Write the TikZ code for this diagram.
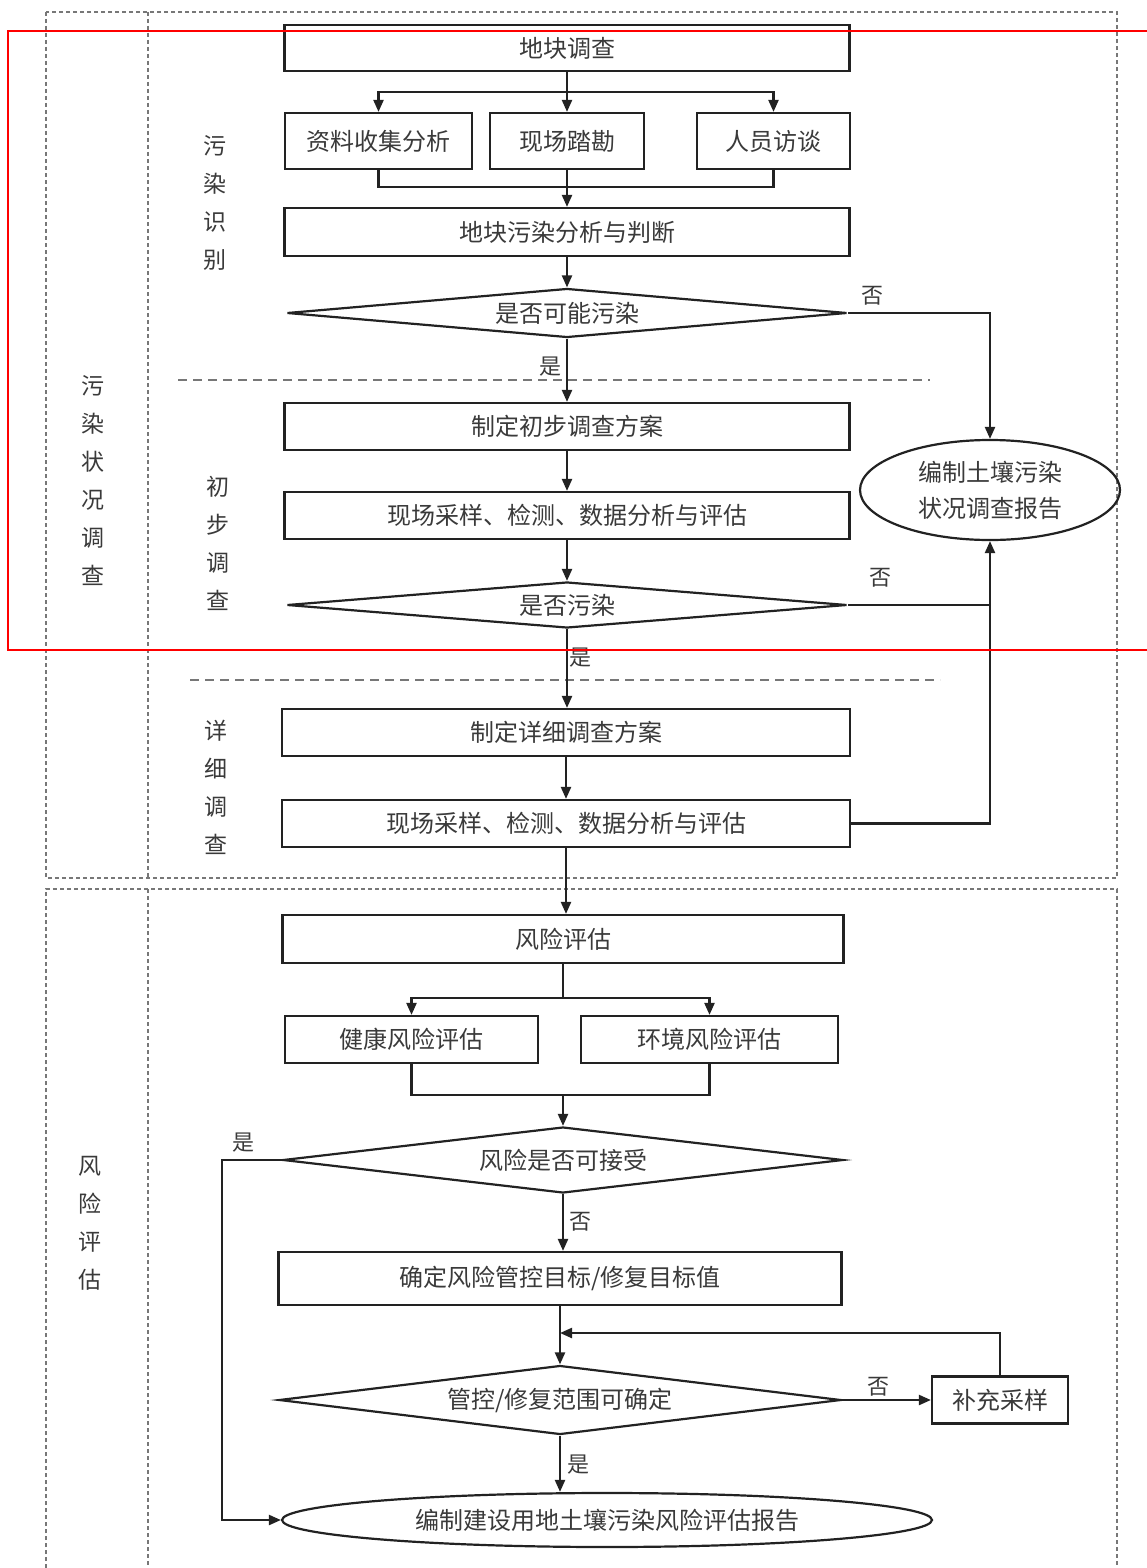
\documentclass[tikz,border=0pt]{standalone}
\usepackage{fontspec}
\setmainfont{Noto Sans CJK SC}
\usetikzlibrary{shapes.geometric,arrows.meta,calc}
\definecolor{linec}{HTML}{222222}
\definecolor{textc}{HTML}{3A3A3A}
\definecolor{framec}{HTML}{777777}
\begin{document}
\begin{tikzpicture}[x=1pt,y=-1pt,
  every node/.style={font=\fontsize{24}{36}\selectfont, text=textc},
  box/.style={draw=linec, line width=2.2pt, inner sep=0pt, rectangle},
  dia/.style={draw=linec, line width=2.2pt, diamond, inner sep=0pt, aspect=10},
  ell/.style={draw=linec, line width=2.2pt, ellipse, inner sep=0pt, align=center},
  arr/.style={draw=linec, line width=2.2pt, -{Triangle[length=12pt,width=10pt]}},
  ln/.style={draw=linec, line width=2.2pt},
  sepline/.style={draw=framec, line width=1.6pt, dash pattern=on 9pt off 6pt},
  frame/.style={draw=framec, line width=1.4pt, dash pattern=on 4pt off 3pt},
  vlab/.style={align=center, font=\fontsize{23}{38}\selectfont},
  lab/.style={font=\fontsize{22}{24}\selectfont},
]
\useasboundingbox[fill=white] (0,0) rectangle (1146,1568);

% frames
\draw[frame] (46,12) rectangle (1117,878);
\draw[frame] (46,1568) -- (46,889) -- (1117,889) -- (1117,1568);
\draw[frame] (148,12) -- (148,878);
\draw[frame] (148,889) -- (148,1568);
\draw[sepline] (178,380) -- (930,380);
\draw[sepline] (190,680) -- (940,680);

% vertical labels
\node[vlab] (v1) at (93,481) {污\\染\\状\\况\\调\\查};
\node[vlab] (v2) at (90,1223) {风\\险\\评\\估};
\node[vlab] (v3) at (215,203) {污\\染\\识\\别};
\node[vlab] (v4) at (218,543) {初\\步\\调\\查};
\node[vlab] (v5) at (216,787) {详\\细\\调\\查};

% nodes
\node[box, minimum width=565pt, minimum height=46pt] (b1) at (567,48) {地块调查};
\node[box, minimum width=187pt, minimum height=56pt] (b2a) at (378.5,141) {资料收集分析};
\node[box, minimum width=154pt, minimum height=56pt] (b2b) at (567,141) {现场踏勘};
\node[box, minimum width=153pt, minimum height=56pt] (b2c) at (773.5,141) {人员访谈};
\node[box, minimum width=565pt, minimum height=48pt] (b3) at (567,232) {地块污染分析与判断};
\node[dia, minimum width=560pt, minimum height=49pt] (d1) at (567,313) {是否可能污染};
\node[box, minimum width=565pt, minimum height=47pt] (b4) at (567,426.5) {制定初步调查方案};
\node[box, minimum width=565pt, minimum height=47pt] (b5) at (567,515.5) {现场采样、检测、数据分析与评估};
\node[dia, minimum width=560pt, minimum height=46pt] (d2) at (567,605) {是否污染};
\node[ell, minimum width=260pt, minimum height=100pt] (e1) at (990,490) {编制土壤污染\\状况调查报告};
\node[box, minimum width=568pt, minimum height=47pt] (b6) at (566,732.5) {制定详细调查方案};
\node[box, minimum width=568pt, minimum height=47pt] (b7) at (566,823.5) {现场采样、检测、数据分析与评估};
\node[box, minimum width=561pt, minimum height=48pt] (b8) at (563,939) {风险评估};
\node[box, minimum width=253pt, minimum height=47pt] (b9a) at (411.5,1039.5) {健康风险评估};
\node[box, minimum width=257pt, minimum height=47pt] (b9b) at (709.5,1039.5) {环境风险评估};
\node[dia, minimum width=560pt, minimum height=66pt] (d3) at (563,1160) {风险是否可接受};
\node[box, minimum width=563pt, minimum height=53pt] (b10) at (560,1278.5) {确定风险管控目标/修复目标值};
\node[dia, minimum width=562pt, minimum height=69pt] (d4) at (560,1400) {管控/修复范围可确定};
\node[box, minimum width=136pt, minimum height=47pt] (b11) at (1000,1400) {补充采样};
\node[ell, minimum width=650pt, minimum height=54pt] (e2) at (607,1520) {编制建设用地土壤污染风险评估报告};

% junctions
\coordinate (j1) at (567,92);
\coordinate (j2) at (567,187);
\coordinate (j3) at (563,998);
\coordinate (j4) at (563,1095);
\coordinate (j6) at (560,1333);

% connectors
\draw[ln] (b1.south) -- (j1);
\draw[arr] (j1) -| (b2a.north);
\draw[arr] (j1) -- (b2b.north);
\draw[arr] (j1) -| (b2c.north);
\draw[ln] (b2a.south) |- (j2) -| (b2c.south);
\draw[arr] (b2b.south) -- (b3.north);
\draw[arr] (b3.south) -- (d1.north);
\draw[arr] (d1.south) -- (b4.north);
\draw[arr] (d1.east) -| (e1.north);
\draw[arr] (b4.south) -- (b5.north);
\draw[arr] (b5.south) -- (d2.north);
\draw[arr] (d2.east) -| (e1.south);
\draw[arr] (d2.south) -- (d2.south |- b6.north);
\draw[arr] (b6.south) -- (b7.north);
\draw[ln] (b7.east) -| (d2.east -| e1.south);
\draw[arr] (b7.south) -- (b7.south |- b8.north);
\draw[ln] (b8.south) -- (j3);
\draw[arr] (j3) -| (b9a.north);
\draw[arr] (j3) -| (b9b.north);
\draw[ln] (b9a.south) |- (j4) -| (b9b.south);
\draw[arr] (j4) -- (d3.north);
\draw[arr] (d3.south) -- (d3.south |- b10.north);
\draw[arr] (d3.west) -- ++(-60,0) |- (e2.west);
\draw[arr] (b10.south) -- (d4.north);
\draw[arr] (d4.east) -- (b11.west);
\draw[arr] (b11.north) |- (j6);
\draw[arr] (d4.south) -- (d4.south |- e2.north);

% labels
\node[lab] (l1) at (872,296) {否};
\node[lab] (l2) at (550,367) {是};
\node[lab] (l3) at (880,578) {否};
\node[lab] (l4) at (580,658) {是};
\node[lab] (l5) at (243,1143) {是};
\node[lab] (l6) at (580,1222) {否};
\node[lab] (l7) at (878,1387) {否};
\node[lab] (l8) at (578,1465) {是};

% red frame
\draw[red, line width=2.4pt] (8,31) rectangle (1150,650);
\end{tikzpicture}
\end{document}
